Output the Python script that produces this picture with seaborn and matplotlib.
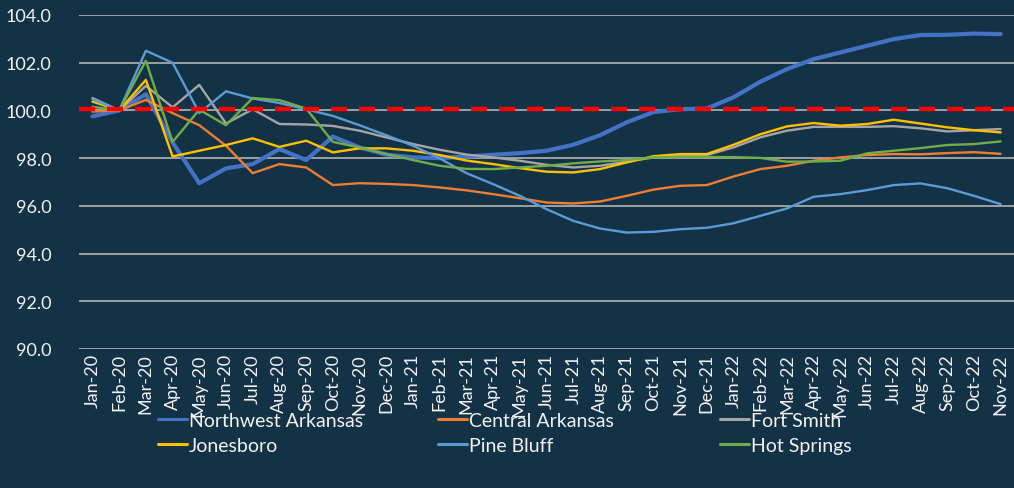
import matplotlib
matplotlib.use("Agg")
import matplotlib.pyplot as plt
import seaborn as sns
import pandas as pd
from matplotlib.lines import Line2D

# -----------------------------
# Datos
# -----------------------------
months = [
    "Jan-20", "Feb-20", "Mar-20", "Apr-20", "May-20", "Jun-20", "Jul-20", "Aug-20",
    "Sep-20", "Oct-20", "Nov-20", "Dec-20", "Jan-21", "Feb-21", "Mar-21", "Apr-21",
    "May-21", "Jun-21", "Jul-21", "Aug-21", "Sep-21", "Oct-21", "Nov-21", "Dec-21",
    "Jan-22", "Feb-22", "Mar-22", "Apr-22", "May-22", "Jun-22", "Jul-22", "Aug-22",
    "Sep-22", "Oct-22", "Nov-22",
]

northwest = [99.75, 100.0, 100.68, 98.66, 96.95, 97.57, 97.75, 98.38, 97.92, 98.9, 98.45, 98.15,
             98.03, 98.0, 98.07, 98.14, 98.21, 98.31, 98.56, 98.96, 99.5, 99.93, 100.05, 100.08,
             100.55, 101.2, 101.73, 102.15, 102.43, 102.71, 102.99, 103.16, 103.17, 103.22, 103.2]
central = [99.95, 100.0, 100.44, 99.89, 99.38, 98.52, 97.37, 97.75, 97.61, 96.87, 96.95, 96.92,
           96.87, 96.77, 96.65, 96.49, 96.32, 96.14, 96.1, 96.18, 96.42, 96.68, 96.84, 96.87,
           97.23, 97.54, 97.68, 97.89, 98.03, 98.13, 98.17, 98.16, 98.21, 98.25, 98.18]
fort_smith = [100.52, 100.0, 101.03, 100.13, 101.07, 99.45, 100.05, 99.43, 99.41, 99.35, 99.15, 98.87,
              98.59, 98.35, 98.15, 98.03, 97.89, 97.72, 97.61, 97.68, 97.85, 98.03, 98.13, 98.13,
              98.45, 98.87, 99.15, 99.31, 99.31, 99.31, 99.34, 99.25, 99.12, 99.17, 99.22]
jonesboro = [100.37, 100.0, 101.28, 98.07, 98.31, 98.55, 98.83, 98.47, 98.73, 98.24, 98.41, 98.41,
             98.31, 98.13, 97.9, 97.75, 97.58, 97.43, 97.4, 97.54, 97.82, 98.08, 98.17, 98.17,
             98.56, 99.0, 99.33, 99.47, 99.36, 99.43, 99.61, 99.45, 99.29, 99.17, 99.08]
pine_bluff = [100.47, 100.0, 102.5, 102.0, 99.89, 100.8, 100.5, 100.31, 100.05, 99.77, 99.38, 98.96,
              98.52, 97.99, 97.37, 96.91, 96.42, 95.86, 95.37, 95.05, 94.88, 94.91, 95.02, 95.08,
              95.27, 95.58, 95.89, 96.38, 96.49, 96.66, 96.87, 96.94, 96.74, 96.42, 96.07]
hot_springs = [100.15, 100.0, 102.08, 98.68, 100.03, 99.38, 100.52, 100.43, 100.08, 98.68, 98.45, 98.17,
               97.92, 97.68, 97.55, 97.54, 97.61, 97.68, 97.78, 97.86, 97.92, 98.03, 98.05, 98.05,
               98.04, 98.01, 97.85, 97.86, 97.89, 98.2, 98.31, 98.42, 98.55, 98.59, 98.7]

regions = ["Northwest Arkansas", "Central Arkansas", "Fort Smith",
           "Jonesboro", "Pine Bluff", "Hot Springs"]
series = [northwest, central, fort_smith, jonesboro, pine_bluff, hot_springs]
reference_level = 100.07

y_ticks = [90.0, 92.0, 94.0, 96.0, 98.0, 100.0, 102.0, 104.0]

# -----------------------------
# Estilo
# -----------------------------
bg = "#143246"
text_color = "#F2F2F2"
colors = {
    "Northwest Arkansas": "#4472C4",
    "Central Arkansas": "#ED7D31",
    "Fort Smith": "#A5A5A5",
    "Jonesboro": "#FFC000",
    "Pine Bluff": "#5B9BD5",
    "Hot Springs": "#70AD47",
}
widths = {r: 1.7 for r in regions}
widths["Northwest Arkansas"] = 3.0

sns.set_theme(style="dark")
plt.rcParams["font.family"] = ["Lato", "DejaVu Sans"]

rows = []
for name, vals in zip(regions, series):
    for i, v in enumerate(vals):
        rows.append({"pos": i, "value": v, "region": name})
df = pd.DataFrame(rows)

fig = plt.figure(figsize=(10.14, 4.89), dpi=100, facecolor=bg)
ax = fig.add_axes([0.078, 0.2843, 0.922, 0.683])
ax.set_facecolor(bg)

for y in y_ticks:
    ax.axhline(y, color="#BFBFBF", lw=1.1, zorder=1)

sns.lineplot(data=df, x="pos", y="value", hue="region", hue_order=regions,
             size="region", sizes=widths, palette=colors, legend=False,
             ax=ax, zorder=3)

ax.axhline(reference_level, color="#FF0000", lw=3.2, dashes=(3.6, 2.7), zorder=5)

ax.set_xlim(-0.5, len(months) - 0.5)
ax.set_ylim(90, 104)
ax.set_yticks(y_ticks)
ax.set_yticklabels([f"{v:.1f}" for v in y_ticks], color=text_color, fontsize=13)
ax.set_xticks(range(len(months)))
ax.set_xticklabels(months, rotation=90, color=text_color, fontsize=13)
ax.tick_params(axis="both", length=0)
ax.tick_params(axis="y", pad=20)
ax.tick_params(axis="x", pad=3)
ax.set_xlabel("")
ax.set_ylabel("")
ax.grid(False)
for s in ax.spines.values():
    s.set_visible(False)

# -----------------------------
# Leyenda (tres columnas de ancho fijo)
# -----------------------------
col_x = [158 / 1014, 438 / 1014, 720 / 1014]
for c in range(3):
    names = [regions[c], regions[c + 3]]
    handles = [Line2D([], [], color=colors[n], lw=2.2) for n in names]
    fig.legend(handles, names, loc="upper left", bbox_to_anchor=(col_x[c], 0.156),
               frameon=False, fontsize=14, labelcolor=text_color,
               handlelength=1.5, handletextpad=0.1, labelspacing=0.42,
               borderpad=0, borderaxespad=0)

fig.savefig("out.png", dpi=100, facecolor=bg)
